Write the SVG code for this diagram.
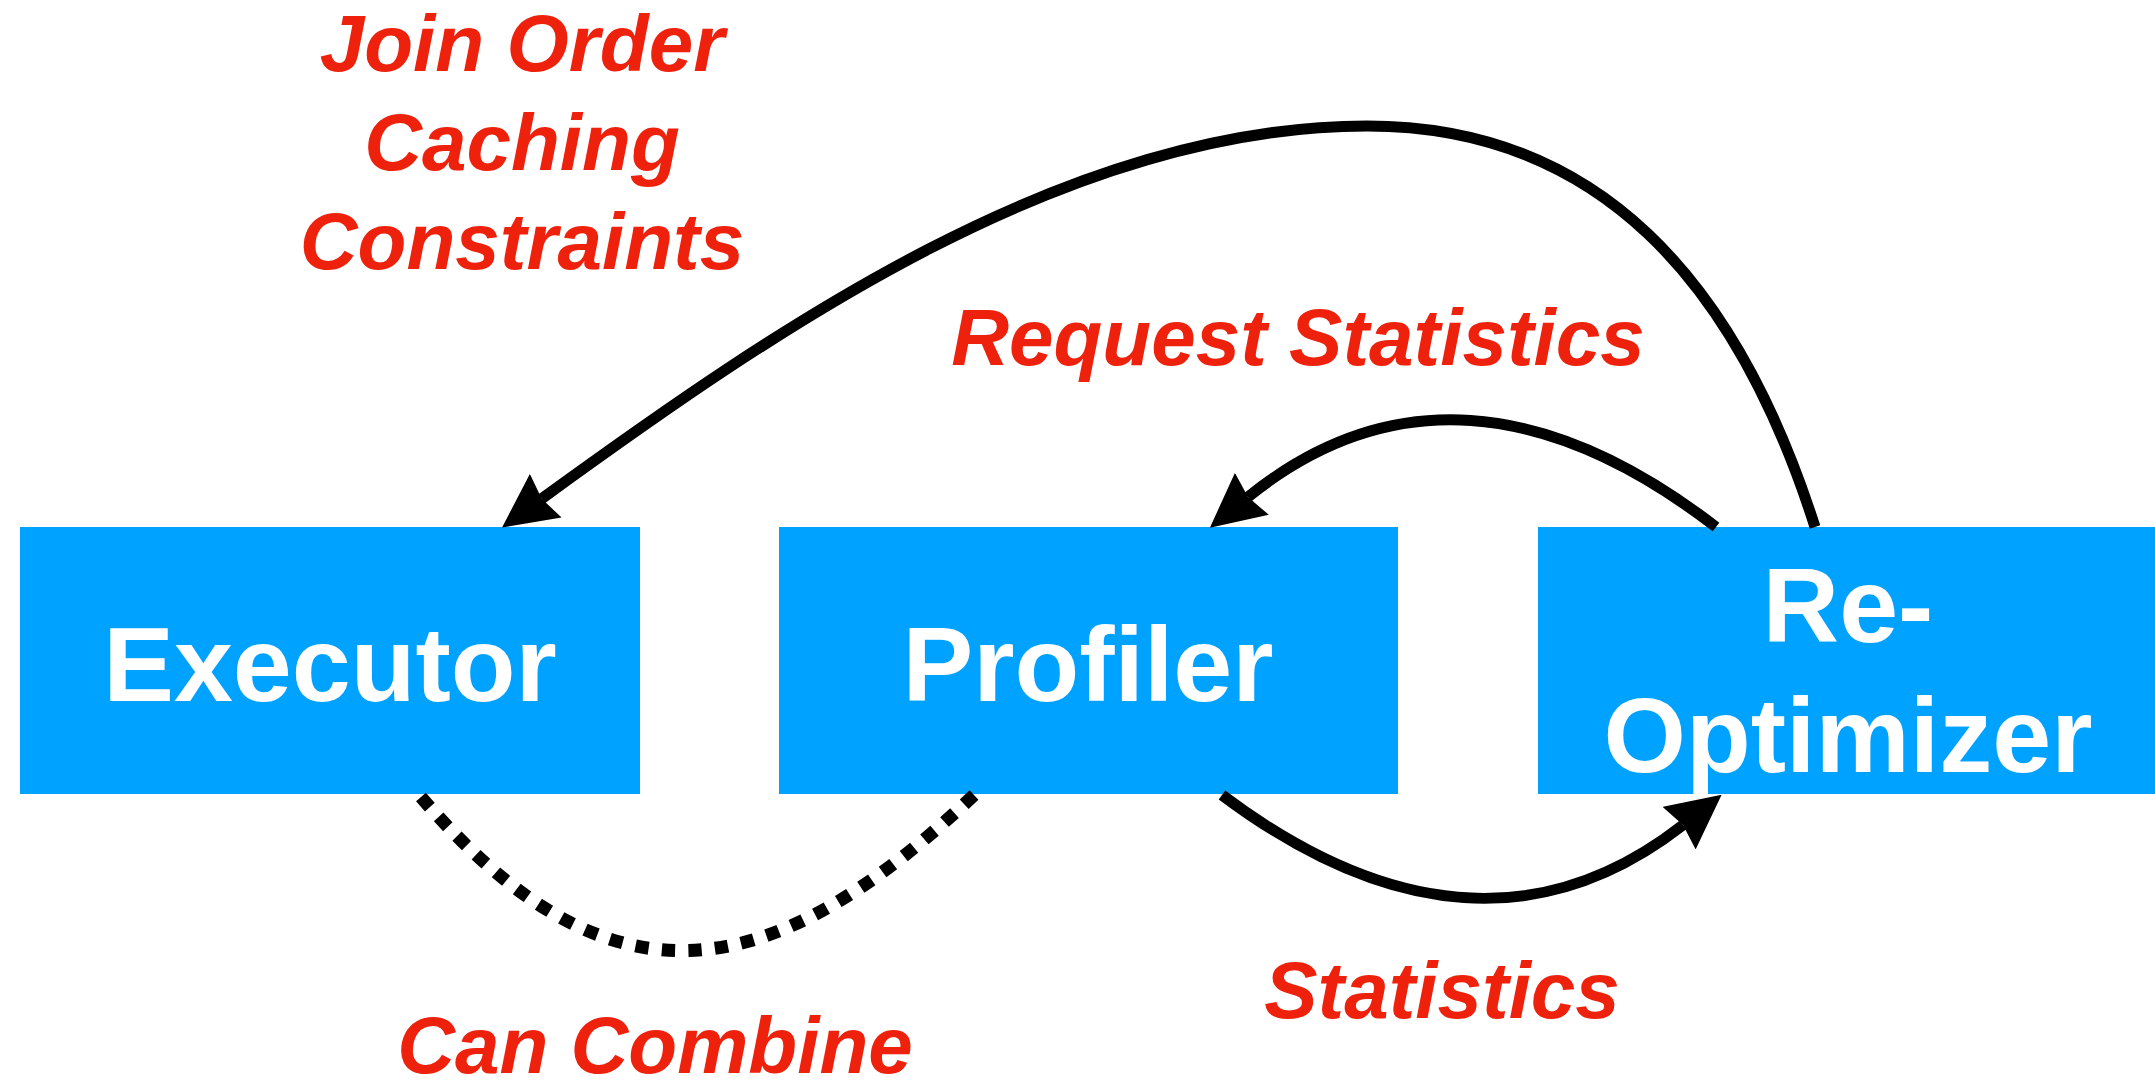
<svg xmlns="http://www.w3.org/2000/svg" width="2155" height="1080" viewBox="0 0 2155 1080">
  <style>
    .box { fill: #00A2FF; }
    .node-label { font-family: "Liberation Sans", Arial, sans-serif; font-weight: bold; font-size: 106px; fill: #FFFFFF; text-anchor: middle; }
    .edge-label { font-family: "Liberation Sans", Arial, sans-serif; font-weight: bold; font-style: italic; font-size: 80px; fill: #EE220C; text-anchor: middle; }
    .link { fill: none; stroke: #000000; stroke-width: 11; }
    .dotted { fill: none; stroke: #000000; stroke-width: 13; stroke-dasharray: 13 13; stroke-linecap: butt; }
  </style>
  <defs>
    <marker id="head" viewBox="0 0 54 54" refX="5" refY="27" markerWidth="54" markerHeight="54" markerUnits="userSpaceOnUse" orient="auto">
      <path d="M0,0 L54,27 L0,54 L5,27 Z" fill="#000000"/>
    </marker>
  </defs>

  <rect width="2155" height="1080" fill="#FFFFFF"/>

  <!-- Components -->
  <g id="executor">
    <rect class="box" x="20" y="527" width="620" height="267"/>
    <text class="node-label" x="330" y="701">Executor</text>
  </g>
  <g id="profiler">
    <rect class="box" x="779" y="527" width="619" height="267"/>
    <text class="node-label" x="1088" y="701">Profiler</text>
  </g>
  <g id="re-optimizer">
    <rect class="box" x="1538" y="527" width="617" height="267"/>
    <text class="node-label" x="1848" y="642">Re-</text>
    <text class="node-label" x="1848" y="772">Optimizer</text>
  </g>

  <!-- Connectors -->
  <g id="connectors">
    <!-- Re-Optimizer back to Executor -->
    <path class="link" marker-end="url(#head)"
          d="M1815,527 C1736,279 1597,126 1367,126 C1067,126 776.6,328.2 541.7,498.7"/>
    <!-- Re-Optimizer requests statistics from Profiler -->
    <path class="link" marker-end="url(#head)"
          d="M1716,527 C1546,396 1388,384 1248,497"/>
    <!-- Profiler sends statistics to Re-Optimizer -->
    <path class="link" marker-end="url(#head)"
          d="M1222,795 C1390,921 1545.1,932.6 1683,825"/>
    <!-- Executor and Profiler can be combined: 25 square dots -->
    <path class="dotted" pathLength="637" d="M421,797 C606,1012 766,992 974,795"/>
  </g>

  <!-- Connector labels -->
  <g id="labels">
    <text class="edge-label" x="522" y="71">Join Order</text>
    <text class="edge-label" x="522" y="170">Caching</text>
    <text class="edge-label" x="522" y="269">Constraints</text>
    <text class="edge-label" x="1298" y="365">Request Statistics</text>
    <text class="edge-label" x="1442" y="1018">Statistics</text>
    <text class="edge-label" x="655" y="1073">Can Combine</text>
  </g>
</svg>
